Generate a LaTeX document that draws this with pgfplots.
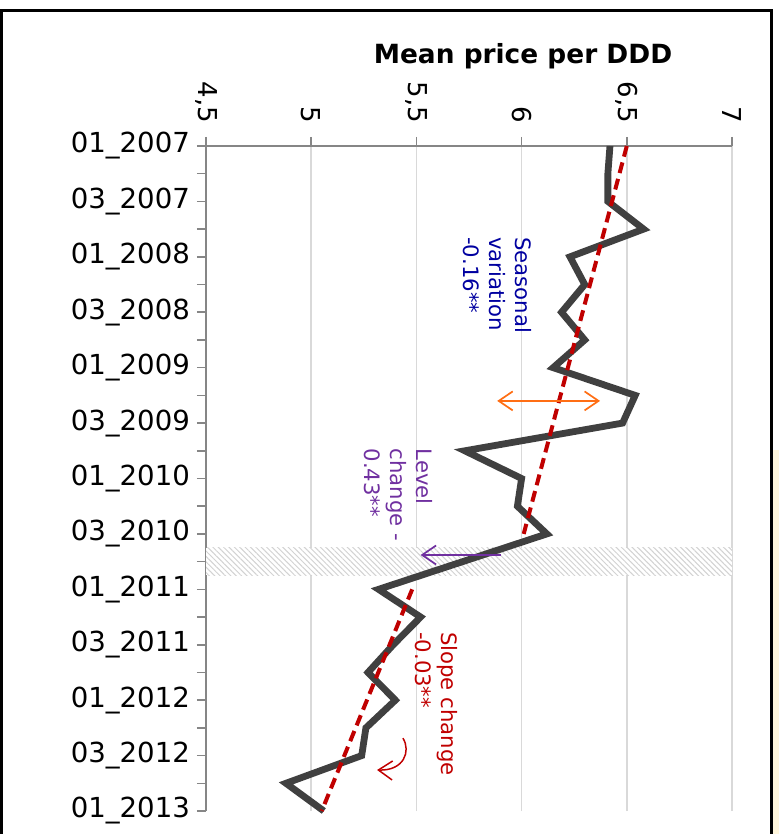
\documentclass[border=0pt]{standalone}
\usepackage{pgfplots}
\pgfplotsset{compat=1.18}
\usepackage{fontspec}
\setmainfont{DejaVu Sans}
\usetikzlibrary{arrows.meta,patterns.meta}
\definecolor{axgray}{RGB}{134,134,134}
\definecolor{gridgray}{RGB}{217,217,217}
\definecolor{dark}{RGB}{64,64,64}
\definecolor{trendred}{RGB}{192,0,0}
\definecolor{seasblue}{RGB}{0,0,160}
\definecolor{lvlpurple}{RGB}{112,48,160}
\definecolor{arroworange}{RGB}{255,110,20}
\definecolor{cream}{RGB}{255,246,220}
\tikzset{barb/.tip={Straight Barb[length=7pt,width=9.5pt]}}
\begin{document}
\begin{tikzpicture}
\begin{axis}[
  name=ax, at={(0,0)}, anchor=north west,
  scale only axis, width=263pt, height=332.5pt,
  xmin=4.5, xmax=7, ymin=-24, ymax=0,
  axis x line*=top, axis y line*=left,
  axis line style={axgray, line width=0.75pt, -},
  xtick={4.5,5,5.5,6,6.5,7},
  xticklabels={{4,5},5,{5,5},6,{6,5},7},
  ytick={-24,-23,...,0},
  yticklabels={01\_2013,,03\_2012,,01\_2012,,03\_2011,,01\_2011,,03\_2010,,01\_2010,,03\_2009,,01\_2009,,03\_2008,,01\_2008,,03\_2007,,01\_2007},
  tick align=outside, major tick length=4.5pt,
  tick style={axgray, line width=0.75pt},
  xmajorgrids, grid style={gridgray, line width=0.75pt},
  xticklabel style={font=\fontsize{13}{15}\selectfont, black, rotate=-90, anchor=east},
  yticklabel style={font=\fontsize{13.8}{16}\selectfont, black},
  xticklabel shift=3.5pt,
  clip=false,
]
% intervention band
\fill[white] (axis cs:4.5,-14.5) rectangle (axis cs:7,-15.5);
\fill[pattern={Lines[angle=-45,distance=1.9pt,line width=0.5pt]}, pattern color=gray!35]
  (axis cs:4.5,-14.5) rectangle (axis cs:7,-15.5);
% observed mean price per DDD (quarterly)
\addplot[dark, line width=3.4pt, line join=miter, mark=none] coordinates {
  (6.42,0) (6.41,-1) (6.41,-2) (6.58,-3) (6.23,-4) (6.30,-5) (6.19,-6)
  (6.30,-7) (6.15,-8) (6.54,-9) (6.48,-10) (5.73,-11) (6.00,-12) (5.98,-13)
  (6.12,-14) (5.72,-15) (5.32,-16) (5.52,-17) (5.39,-18) (5.27,-19)
  (5.40,-20) (5.26,-21) (5.24,-22) (4.88,-23) (5.06,-24)};
% segmented regression trend
\addplot[trendred, line width=2pt, dash pattern=on 5.5pt off 3pt, mark=none] coordinates {(6.50,0) (6.01,-14)};
\addplot[trendred, line width=2pt, dash pattern=on 5.5pt off 3pt, mark=none] coordinates {(5.48,-16) (5.05,-24)};
% annotations
\draw[arroworange, line width=0.85pt, barb-barb] (axis cs:5.884,-9.2) -- (axis cs:6.373,-9.2);
\draw[lvlpurple, line width=0.85pt, -barb] (axis cs:5.90,-14.76) -- (axis cs:5.52,-14.76);
\draw[trendred, line width=0.75pt, -barb] (axis cs:5.436,-21.37) .. controls (axis cs:5.475,-21.85) and (axis cs:5.44,-22.55) .. (axis cs:5.313,-22.52);
\node[rotate=-90, anchor=north west, inner sep=0pt, align=left, text=seasblue, font=\fontsize{10.6}{12.9}\selectfont] at (axis cs:6.049,-3.28) {Seasonal\\variation\\-0.16**};
\node[rotate=-90, anchor=north west, inner sep=0pt, align=left, text=lvlpurple, font=\fontsize{10.6}{12.9}\selectfont] at (axis cs:5.578,-10.91) {Level\\change -\\0.43**};
\node[rotate=-90, anchor=north west, inner sep=0pt, align=left, text=trendred, font=\fontsize{10.6}{12.9}\selectfont] at (axis cs:5.699,-17.53) {Slope change\\-0.03**};
\end{axis}
\node[anchor=base, font=\bfseries\fontsize{13.2}{15}\selectfont] at ([shift={(158.5pt,41.35pt)}]ax.north west) {Mean price per DDD};
\fill[cream] ([shift={(283.5pt,-152pt)}]ax.north west) rectangle ([shift={(292pt,-360pt)}]ax.north west);
\draw[black, line width=1.5pt] ([shift={(-102pt,67.5pt)}]ax.north west) rectangle ([shift={(282.5pt,-360pt)}]ax.north west);
\pgfresetboundingbox
\path[use as bounding box] ([shift={(-103pt,73pt)}]ax.north west) rectangle ([shift={(286pt,-344pt)}]ax.north west);
\end{tikzpicture}
\end{document}
